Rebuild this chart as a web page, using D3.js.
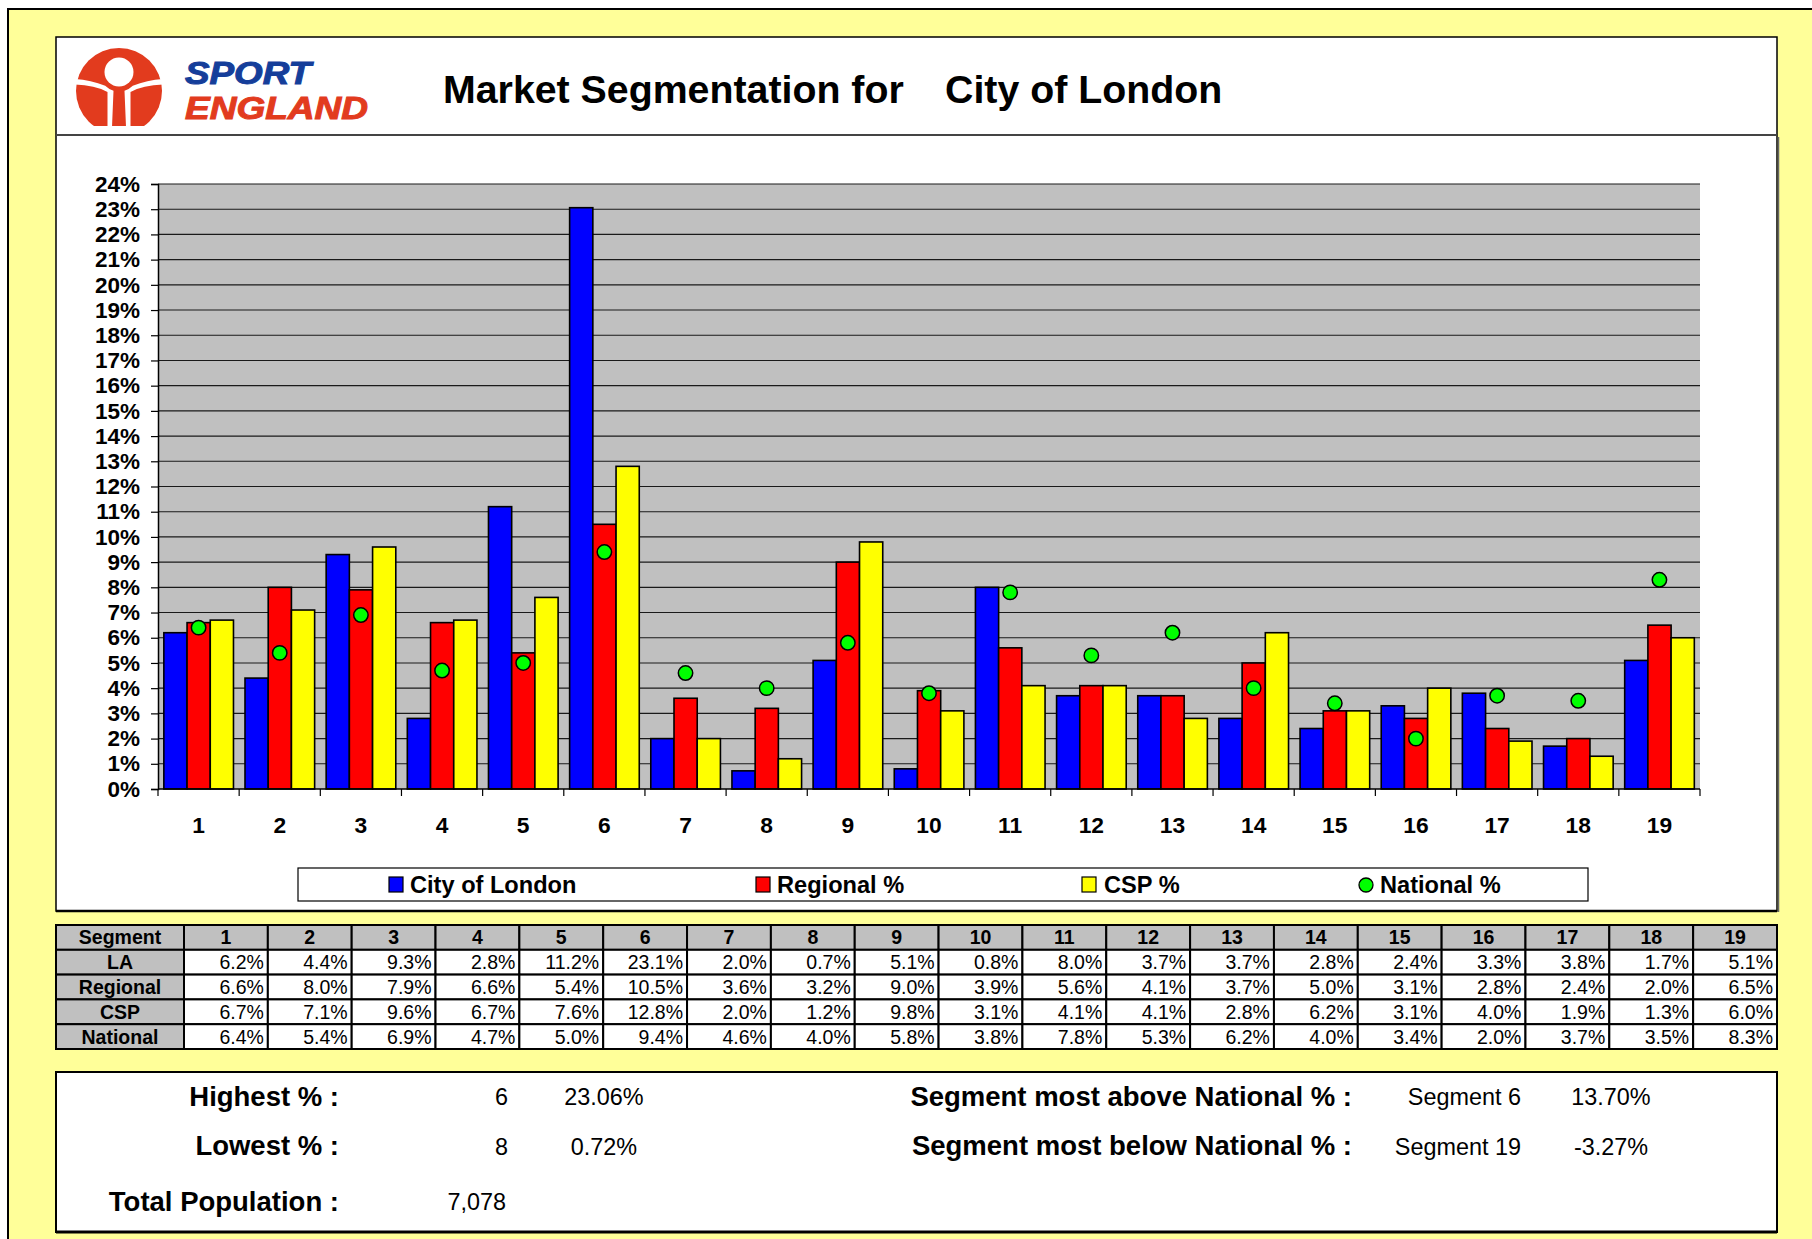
<!DOCTYPE html>
<html>
<head>
<meta charset="utf-8">
<script src="https://cdn.jsdelivr.net/npm/d3@7/dist/d3.min.js"></script>
<style>
  body { margin: 0; background: #ffffff; }
  svg { display: block; font-family: "Liberation Sans", Arial, sans-serif; }
</style>
</head>
<body>
<svg id="chart" width="1812" height="1239"></svg>
<script>
// ---------------- DATA ----------------
const segments = ["1","2","3","4","5","6","7","8","9","10","11","12","13","14","15","16","17","18","19"];
const laValues       = [6.2, 4.4, 9.3, 2.8, 11.2, 23.06, 2.0, 0.72, 5.1, 0.8, 8.0, 3.7, 3.7, 2.8, 2.4, 3.3, 3.8, 1.7, 5.1];
const regionalValues = [6.6, 8.0, 7.9, 6.6, 5.4, 10.5, 3.6, 3.2, 9.0, 3.9, 5.6, 4.1, 3.7, 5.0, 3.1, 2.8, 2.4, 2.0, 6.5];
const cspValues      = [6.7, 7.1, 9.6, 6.7, 7.6, 12.8, 2.0, 1.2, 9.8, 3.1, 4.1, 4.1, 2.8, 6.2, 3.1, 4.0, 1.9, 1.3, 6.0];
const nationalValues = [6.4, 5.4, 6.9, 4.7, 5.0, 9.4, 4.6, 4.0, 5.8, 3.8, 7.8, 5.3, 6.2, 4.0, 3.4, 2.0, 3.7, 3.5, 8.3];
const yTickValues = d3.range(0, 25);           // 0% .. 24%
const seriesNames = ["City of London", "Regional %", "CSP %", "National %"];
const seriesColors = ["#0000FF", "#FF0000", "#FFFF00", "#00FF00"];
const tableRowLabels = ["LA", "Regional", "CSP", "National"];
const titleLeft = "Market Segmentation for";
const titleRight = "City of London";
const summaryHighestSeg = "6", summaryHighestPct = "23.06%";
const summaryLowestSeg = "8", summaryLowestPct = "0.72%";
const summaryPopulation = "7,078";
const summaryAboveSeg = "Segment 6", summaryAbovePct = "13.70%";
const summaryBelowSeg = "Segment 19", summaryBelowPct = "-3.27%";

// ---------------- SETUP ----------------
const svg = d3.select("#chart");
const FONT = '"Liberation Sans", Arial, sans-serif';

// page frame
svg.append("rect").attr("x", 8).attr("y", 9).attr("width", 1830).attr("height", 1260)
  .attr("fill", "#FFFF99").attr("stroke", "#000").attr("stroke-width", 2);

// chart box
svg.append("rect").attr("x", 56).attr("y", 37).attr("width", 1721).attr("height", 874)
  .attr("fill", "#fff").attr("stroke", "#000").attr("stroke-width", 1.5);
svg.append("line").attr("x1", 1778.5).attr("x2", 1778.5).attr("y1", 137).attr("y2", 912)
  .attr("stroke", "#666").attr("stroke-width", 1.5);
svg.append("line").attr("x1", 56).attr("x2", 1777).attr("y1", 135).attr("y2", 135)
  .attr("stroke", "#444").attr("stroke-width", 2);
svg.append("line").attr("x1", 56).attr("x2", 1777).attr("y1", 911).attr("y2", 911)
  .attr("stroke", "#000").attr("stroke-width", 2.5);

// ---------------- LOGO ----------------
const logo = svg.append("g").attr("transform", "translate(76,48)");
const logoRed = "#E23B1E";
svg.append("defs").append("clipPath").attr("id", "logoClip")
  .append("rect").attr("x", -2).attr("y", -2).attr("width", 90).attr("height", 80);
logo.append("circle").attr("cx", 43).attr("cy", 43).attr("r", 43)
  .attr("fill", logoRed).attr("clip-path", "url(#logoClip)");
logo.append("circle").attr("cx", 43).attr("cy", 24).attr("r", 14.5).attr("fill", "#fff");
const gapLeft = "M -1,31 Q 15,32 29.2,37.8 A 19.5 19.5 0 0 0 37.5,42.7 L 36,79 L 31.5,79 L 31.5,44 Q 19,37 -1,36.5 Z";
logo.append("path").attr("d", gapLeft).attr("fill", "#fff");
logo.append("path").attr("d", gapLeft).attr("fill", "#fff")
  .attr("transform", "translate(86,0) scale(-1,1)");
svg.append("text").attr("x", 185).attr("y", 84)
  .attr("font-size", 31).attr("font-weight", "bold").attr("font-style", "italic")
  .attr("fill", "#153E9A").attr("stroke", "#153E9A").attr("stroke-width", 1)
  .attr("textLength", 126).attr("lengthAdjust", "spacingAndGlyphs")
  .text("SPORT");
svg.append("text").attr("x", 185).attr("y", 119)
  .attr("font-size", 31).attr("font-weight", "bold").attr("font-style", "italic")
  .attr("fill", logoRed).attr("stroke", logoRed).attr("stroke-width", 1)
  .attr("textLength", 183).attr("lengthAdjust", "spacingAndGlyphs")
  .text("ENGLAND");

// ---------------- TITLE ----------------
svg.append("text").attr("x", 443).attr("y", 103).attr("font-size", 39.3).attr("font-weight", "bold")
  .attr("fill", "#000").text(titleLeft);
svg.append("text").attr("x", 945).attr("y", 103).attr("font-size", 39.3).attr("font-weight", "bold")
  .attr("fill", "#000").text(titleRight);

// ---------------- CHART ----------------
const x = d3.scaleBand().domain(segments).range([158, 1700]).paddingInner(0).paddingOuter(0);
const y = d3.scaleLinear().domain([0, 24]).range([789, 184]);
const bw = x.bandwidth();

svg.append("rect").attr("x", x.range()[0]).attr("y", y(24))
  .attr("width", x.range()[1] - x.range()[0]).attr("height", y(0) - y(24)).attr("fill", "#C0C0C0");

// gridlines
svg.append("g").selectAll("line").data(yTickValues.filter(d => d > 0)).join("line")
  .attr("x1", x.range()[0]).attr("x2", x.range()[1])
  .attr("y1", d => y(d)).attr("y2", d => y(d))
  .attr("stroke", "#1a1a1a").attr("stroke-width", 1.1);

// y axis
const yAxis = svg.append("g").attr("transform", `translate(${x.range()[0]},0)`)
  .call(d3.axisLeft(y).tickValues(yTickValues).tickSize(7).tickPadding(11).tickFormat(d => d + "%"));
yAxis.select(".domain").attr("stroke", "#000").attr("stroke-width", 1.5);
yAxis.selectAll(".tick line").attr("stroke", "#000").attr("stroke-width", 1.2);
yAxis.selectAll("text").attr("font-family", FONT).attr("font-size", 22.5).attr("font-weight", "bold").attr("fill", "#000");

// bars
const seriesData = [laValues, regionalValues, cspValues];
const barW = bw * 0.286, barOff = bw * 0.072;
seriesData.forEach((vals, si) => {
  svg.append("g").selectAll("rect").data(segments.map((s, i) => ({ s, v: vals[i] }))).join("rect")
    .attr("x", d => x(d.s) + barOff + si * barW)
    .attr("y", d => y(d.v))
    .attr("width", barW)
    .attr("height", d => y(0) - y(d.v))
    .attr("fill", seriesColors[si])
    .attr("stroke", "#000").attr("stroke-width", 1.6);
});

// x axis
const xAxis = svg.append("g").attr("transform", `translate(0,${y(0)})`)
  .call(d3.axisBottom(x).tickSize(0).tickPadding(28));
xAxis.select(".domain").remove();
xAxis.selectAll("text").attr("font-family", FONT).attr("font-size", 22.8).attr("font-weight", "bold").attr("fill", "#000");
svg.append("line").attr("x1", x.range()[0]).attr("x2", x.range()[1]).attr("y1", y(0)).attr("y2", y(0))
  .attr("stroke", "#000").attr("stroke-width", 1.5);
const boundaries = segments.map(s => x(s)).concat([x.range()[1]]);
svg.append("g").selectAll("line").data(boundaries).join("line")
  .attr("x1", d => d).attr("x2", d => d).attr("y1", y(0)).attr("y2", y(0) + 7)
  .attr("stroke", "#000").attr("stroke-width", 1.2);

// national markers
svg.append("g").selectAll("circle").data(segments.map((s, i) => ({ s, v: nationalValues[i] }))).join("circle")
  .attr("cx", d => x(d.s) + bw / 2)
  .attr("cy", d => y(d.v))
  .attr("r", 7.2)
  .attr("fill", seriesColors[3]).attr("stroke", "#000").attr("stroke-width", 1.5);

// ---------------- LEGEND ----------------
svg.append("rect").attr("x", 298).attr("y", 868).attr("width", 1290).attr("height", 33)
  .attr("fill", "#fff").attr("stroke", "#000").attr("stroke-width", 1.2);
const legendPos = [389, 756, 1082, 1359];
const legendTextX = [410, 777, 1104, 1380];
seriesNames.forEach((name, i) => {
  if (i < 3) {
    svg.append("rect").attr("x", legendPos[i]).attr("y", 877).attr("width", 14).attr("height", 15)
      .attr("fill", seriesColors[i]).attr("stroke", "#000").attr("stroke-width", 1.2);
  } else {
    svg.append("circle").attr("cx", legendPos[i] + 7).attr("cy", 885).attr("r", 7)
      .attr("fill", seriesColors[i]).attr("stroke", "#000").attr("stroke-width", 1.3);
  }
  svg.append("text").attr("x", legendTextX[i]).attr("y", 893)
    .attr("font-size", 23.6).attr("font-weight", "bold").attr("fill", "#000").text(name);
});

// ---------------- TABLE ----------------
const tx = d3.scaleBand().domain(segments).range([184, 1777]);
const rowKeys = ["Segment"].concat(tableRowLabels);
const ty = d3.scaleBand().domain(rowKeys).range([925, 1049]);
const rowVals = { "LA": laValues, "Regional": regionalValues, "CSP": cspValues, "National": nationalValues };
const table = svg.append("g");
rowKeys.forEach((rk, ri) => {
  const top = ty(rk), h = ty.bandwidth();
  table.append("rect").attr("x", 56).attr("y", top).attr("width", 184 - 56).attr("height", h)
    .attr("fill", "#C0C0C0").attr("stroke", "#000").attr("stroke-width", 2);
  table.append("text").attr("x", (56 + 184) / 2).attr("y", top + h / 2 + 7)
    .attr("text-anchor", "middle").attr("font-size", 19.5).attr("font-weight", "bold").attr("fill", "#000").text(rk);
  segments.forEach((s, ci) => {
    const left = tx(s), w = tx.bandwidth();
    table.append("rect").attr("x", left).attr("y", top).attr("width", w).attr("height", h)
      .attr("fill", ri === 0 ? "#C0C0C0" : "#fff").attr("stroke", "#000").attr("stroke-width", 2);
    if (ri === 0) {
      table.append("text").attr("x", left + w / 2).attr("y", top + h / 2 + 7)
        .attr("text-anchor", "middle").attr("font-size", 19.5).attr("font-weight", "bold").attr("fill", "#000").text(s);
    } else {
      table.append("text").attr("x", left + w - 4).attr("y", top + h / 2 + 7)
        .attr("text-anchor", "end").attr("font-size", 19.5).attr("fill", "#000")
        .text(rowVals[rk][ci].toFixed(1) + "%");
    }
  });
});

// ---------------- SUMMARY ----------------
svg.append("rect").attr("x", 56).attr("y", 1072).attr("width", 1721).attr("height", 160)
  .attr("fill", "#fff").attr("stroke", "#000").attr("stroke-width", 2);
svg.append("line").attr("x1", 56).attr("x2", 1777).attr("y1", 1232).attr("y2", 1232)
  .attr("stroke", "#000").attr("stroke-width", 3);
function label(xp, yp, txt, anchor) {
  svg.append("text").attr("x", xp).attr("y", yp).attr("text-anchor", anchor)
    .attr("font-size", 27.5).attr("font-weight", "bold").attr("fill", "#000").text(txt);
}
function val(xp, yp, txt, anchor) {
  svg.append("text").attr("x", xp).attr("y", yp).attr("text-anchor", anchor)
    .attr("font-size", 23.4).attr("fill", "#000").text(txt);
}
label(339, 1106, "Highest % :", "end");
val(508, 1105, summaryHighestSeg, "end");
val(604, 1105, summaryHighestPct, "middle");
label(339, 1155, "Lowest % :", "end");
val(508, 1155, summaryLowestSeg, "end");
val(604, 1155, summaryLowestPct, "middle");
label(339, 1211, "Total Population :", "end");
val(506, 1210, summaryPopulation, "end");
label(1352, 1106, "Segment most above National % :", "end");
val(1521, 1105, summaryAboveSeg, "end");
val(1611, 1105, summaryAbovePct, "middle");
label(1352, 1155, "Segment most below National % :", "end");
val(1521, 1155, summaryBelowSeg, "end");
val(1611, 1155, summaryBelowPct, "middle");
</script>
</body>
</html>
